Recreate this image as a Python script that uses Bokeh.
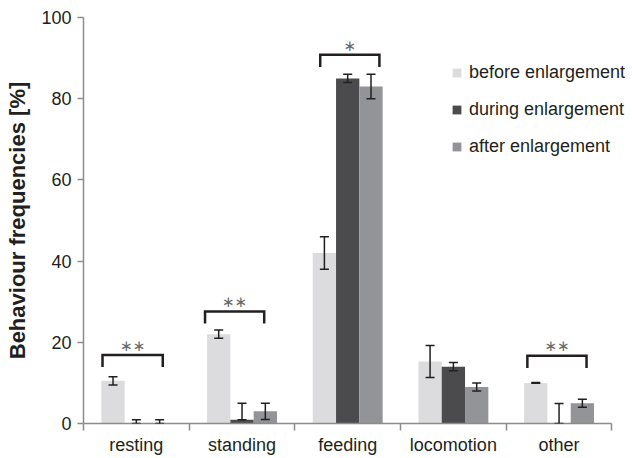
import numpy as np
from bokeh.plotting import figure
from bokeh.models import (ColumnDataSource, Range1d, FixedTicker, Whisker, TeeHead,
                          Legend, LegendItem)
from bokeh.core.properties import value
from bokeh.embed import file_html
from bokeh.resources import INLINE

# ---- data ----
categories = ["resting", "standing", "feeding", "locomotion", "other"]
series_names = ["before enlargement", "during enlargement", "after enlargement"]

before_vals = [10.5, 22.0, 42.0, 15.3, 10.0]
before_upper = [11.5, 23.0, 46.0, 19.2, 10.1]
before_lower = [9.5, 21.0, 38.0, 11.3, 9.9]

during_vals = [0.0, 0.9, 85.0, 14.0, 0.0]
during_upper = [0.9, 5.0, 86.0, 15.0, 4.9]
during_lower = [0.0, 0.9, 84.0, 13.0, 0.0]

after_vals = [0.0, 3.0, 83.0, 9.0, 5.0]
after_upper = [0.9, 5.0, 86.0, 10.0, 6.0]
after_lower = [0.0, 1.0, 80.0, 8.0, 4.0]

# significance brackets
bracket_cat = [0, 1, 2, 4]
bracket_level = [16.9, 27.6, 90.8, 16.7]
bracket_left = [-0.32, -0.35, -0.26, -0.30]
bracket_right = [0.25, 0.21, 0.30, 0.26]
bracket_label = ["∗∗", "∗∗", "∗", "∗∗"]

y_ticks = [0, 20, 40, 60, 80, 100]

# ---- style ----
colors = ["#dcdcde", "#4b4b4d", "#939497"]
offsets = [-0.2205, 0.0, 0.2205]
bar_w = 0.2205
ink = "#231f20"
axis_col = "#8c8c8c"
FONT = "Liberation Sans"

p = figure(width=632, height=458, output_backend="svg", toolbar_location=None,
           x_range=Range1d(0, 5.176), y_range=Range1d(0, 100),
           min_border_left=83, min_border_right=2, min_border_top=17, min_border_bottom=35)
p.outline_line_color = None
p.xgrid.grid_line_color = None
p.ygrid.grid_line_color = None
p.background_fill_color = "white"
p.border_fill_color = "white"

centers = np.arange(len(categories)) + 0.5
series = [
    (before_vals, before_upper, before_lower),
    (during_vals, during_upper, during_lower),
    (after_vals, after_upper, after_lower),
]
renderers = []
for (vals, up, lo), col, off in zip(series, colors, offsets):
    src = ColumnDataSource(dict(x=centers + off, top=vals, upper=up, lower=lo))
    r = p.vbar(x="x", top="top", width=bar_w, bottom=0, source=src,
               fill_color=col, line_color=None)
    renderers.append(r)
    w = Whisker(source=src, base="x", upper="upper", lower="lower", level="overlay",
                line_color=ink, line_width=1.5,
                upper_head=TeeHead(size=9, line_color=ink, line_width=1.5),
                lower_head=TeeHead(size=9, line_color=ink, line_width=1.5))
    p.add_layout(w)

# brackets
xs, ys, tx, ty = [], [], [], []
for c, lev, l, r_ in zip(bracket_cat, bracket_level, bracket_left, bracket_right):
    xl = c + 0.5 + l
    xr = c + 0.5 + r_
    xs.append([xl, xl, xr, xr])
    ys.append([lev - 3.0, lev, lev, lev - 3.0])
    tx.append((xl + xr) / 2)
    ty.append(lev + 2.3)
p.multi_line(xs=xs, ys=ys, line_color=ink, line_width=2.5, line_join="miter")
p.text(x=tx, y=ty, text=bracket_label, text_font=value("DejaVu Sans"),
       text_font_size="15px", text_color="#6a6a6a", text_align="center",
       text_baseline="middle")

# axes
xa = p.xaxis[0]
xa.bounds = (0, 5)
xa.ticker = FixedTicker(ticks=list(centers), minor_ticks=list(range(len(categories) + 1)))
xa.major_label_overrides = {float(c): n for c, n in zip(centers, categories)}
xa.major_tick_out = 0
xa.major_tick_in = 0
xa.minor_tick_out = 7
xa.minor_tick_in = 0
xa.minor_tick_line_color = axis_col
xa.minor_tick_line_width = 1.5
xa.axis_line_color = axis_col
xa.axis_line_width = 1.5
xa.major_label_standoff = 4
xa.major_label_text_font = FONT
xa.major_label_text_font_size = "18px"
xa.major_label_text_color = ink

ya = p.yaxis[0]
ya.ticker = FixedTicker(ticks=y_ticks)
ya.major_tick_out = 6
ya.major_tick_in = 0
ya.minor_tick_out = 0
ya.minor_tick_in = 0
ya.major_tick_line_color = axis_col
ya.major_tick_line_width = 1.5
ya.axis_line_color = axis_col
ya.axis_line_width = 1.5
ya.major_label_standoff = 6
ya.major_label_text_font = FONT
ya.major_label_text_font_size = "18px"
ya.major_label_text_color = ink
ya.axis_label = "Behaviour frequencies [%]"
ya.axis_label_text_font = FONT
ya.axis_label_text_font_size = "22px"
ya.axis_label_text_font_style = "bold"
ya.axis_label_text_color = ink
ya.axis_label_standoff = 8

legend = Legend(items=[LegendItem(label=n, renderers=[r]) for n, r in zip(series_names, renderers)],
                location=(368, 266), padding=0, margin=0, spacing=16,
                glyph_width=11, glyph_height=11, label_height=21, label_standoff=7,
                label_text_font=FONT, label_text_font_size="18px", label_text_color=ink,
                border_line_alpha=0, background_fill_alpha=0)
p.add_layout(legend, "center")

open("out.html", "w").write(file_html(p, INLINE))
